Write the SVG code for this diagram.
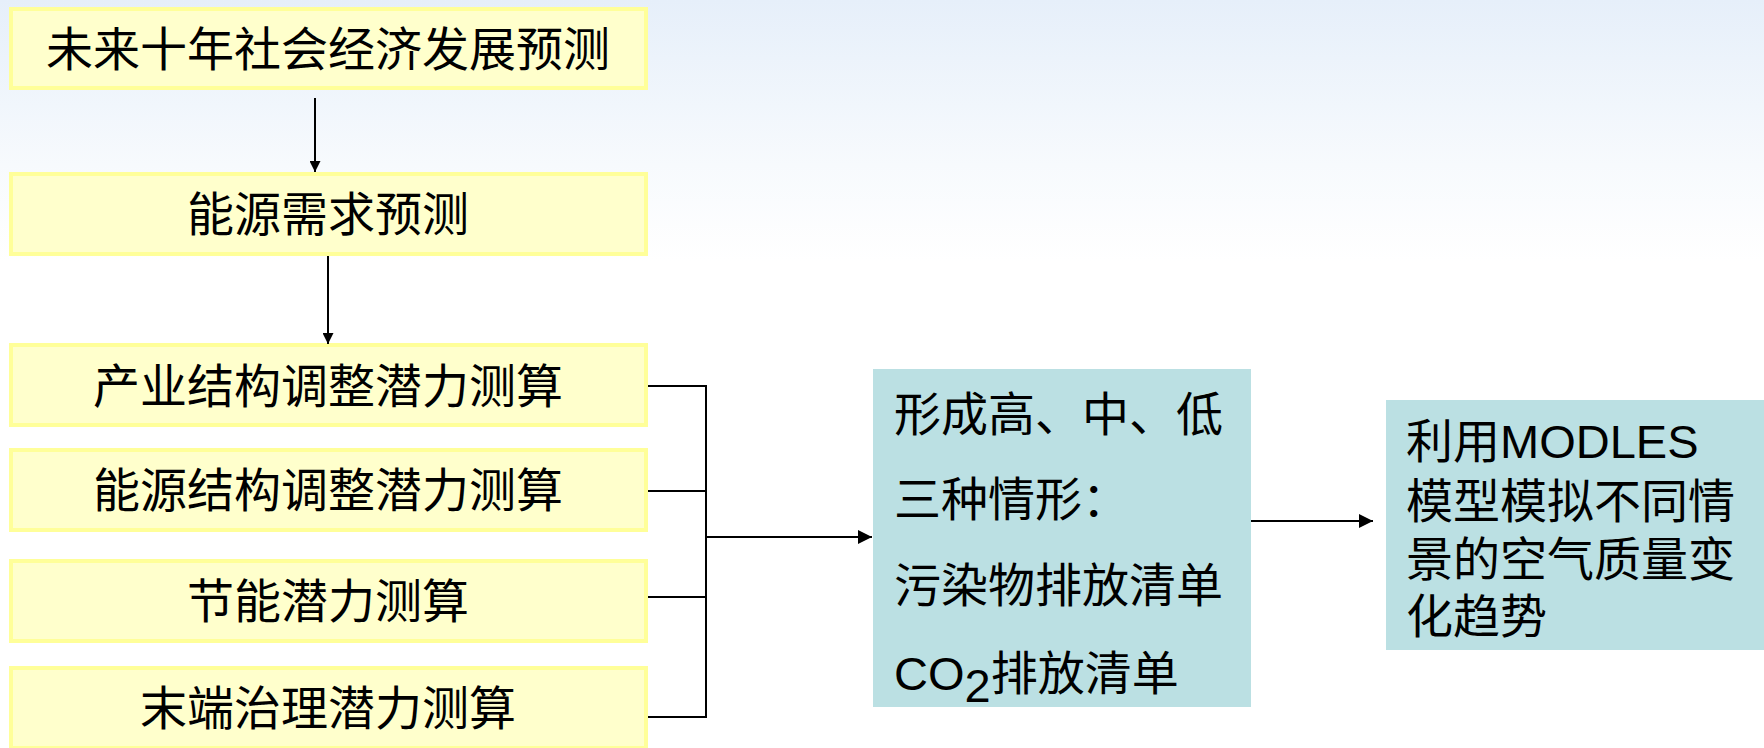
<svg xmlns="http://www.w3.org/2000/svg" width="1764" height="748" viewBox="0 0 1764 748">
<defs>
<linearGradient id="bg" x1="0" y1="0" x2="0" y2="1">
<stop offset="0" stop-color="#E6EFFA"/>
<stop offset="0.22" stop-color="#F7FAFD"/>
<stop offset="0.35" stop-color="#FFFFFF"/>
<stop offset="1" stop-color="#FFFFFF"/>
</linearGradient>
<marker id="ah" viewBox="0 0 10 10" refX="10" refY="5" markerWidth="11" markerHeight="11" markerUnits="userSpaceOnUse" orient="auto">
<path d="M0,0 L10,5 L0,10 z" fill="#000"/>
</marker>
<marker id="ahb" viewBox="0 0 10 10" refX="10" refY="5" markerWidth="16" markerHeight="14" markerUnits="userSpaceOnUse" orient="auto">
<path d="M0,0 L10,5 L0,10 z" fill="#000"/>
</marker>
</defs>
<style>
.y{fill:#FFFFCC;stroke:#FFFF99;stroke-width:4}
.b{fill:#BBE0E3;stroke:none}
.t{font-family:"Noto Sans CJK SC","Liberation Sans",sans-serif;font-size:47px;fill:#000}
.m{font-family:"Liberation Sans","Noto Sans CJK SC",sans-serif;font-size:47px;fill:#000}
.c{text-anchor:middle}
.ln{stroke:#000;stroke-width:2;fill:none}
</style>
<rect x="0" y="0" width="1764" height="748" fill="url(#bg)"/>
<g id="n1"><rect class="y" x="11" y="9" width="635" height="79"/><text class="t c" x="328" y="66">未来十年社会经济发展预测</text></g>
<g id="n2"><rect class="y" x="11" y="174" width="635" height="80"/><text class="t c" x="328" y="231">能源需求预测</text></g>
<g id="n3"><rect class="y" x="11" y="345" width="635" height="80"/><text class="t c" x="328" y="403">产业结构调整潜力测算</text></g>
<g id="n4"><rect class="y" x="11" y="450" width="635" height="80"/><text class="t c" x="328" y="507">能源结构调整潜力测算</text></g>
<g id="n5"><rect class="y" x="11" y="561" width="635" height="80"/><text class="t c" x="328" y="618">节能潜力测算</text></g>
<g id="n6"><rect class="y" x="11" y="668" width="635" height="80"/><text class="t c" x="328" y="725">末端治理潜力测算</text></g>
<g id="n7"><rect class="b" x="873" y="369" width="378" height="338"/>
<text class="t" x="894" y="431">形成高、中、低</text>
<text class="t" x="894" y="516">三种情形：</text>
<text class="t" x="894" y="602">污染物排放清单</text>
<text class="t" x="894" y="690"><tspan class="m" font-size="45">CO</tspan><tspan class="m" font-size="30" dy="12">2</tspan><tspan dy="-12">排放清单</tspan></text>
</g>
<g id="n8"><rect class="b" x="1386" y="400" width="378" height="250"/>
<text class="m" x="1406" y="458">利用MODLES</text>
<text class="m" x="1406" y="518">模型模拟不同情</text>
<text class="m" x="1406" y="576">景的空气质量变</text>
<text class="m" x="1406" y="633">化趋势</text>
</g>
<g id="connectors">
<line class="ln" x1="315" y1="98" x2="315" y2="172" marker-end="url(#ah)"/>
<line class="ln" x1="328" y1="256" x2="328" y2="344" marker-end="url(#ah)"/>
<polyline class="ln" points="648,386 706,386 706,717 648,717"/>
<line class="ln" x1="648" y1="491" x2="706" y2="491"/>
<line class="ln" x1="648" y1="597" x2="706" y2="597"/>
<line class="ln" x1="706" y1="537" x2="872" y2="537" marker-end="url(#ahb)"/>
<line class="ln" x1="1251" y1="521" x2="1373" y2="521" stroke-width="3" marker-end="url(#ahb)"/>
</g>
</svg>
